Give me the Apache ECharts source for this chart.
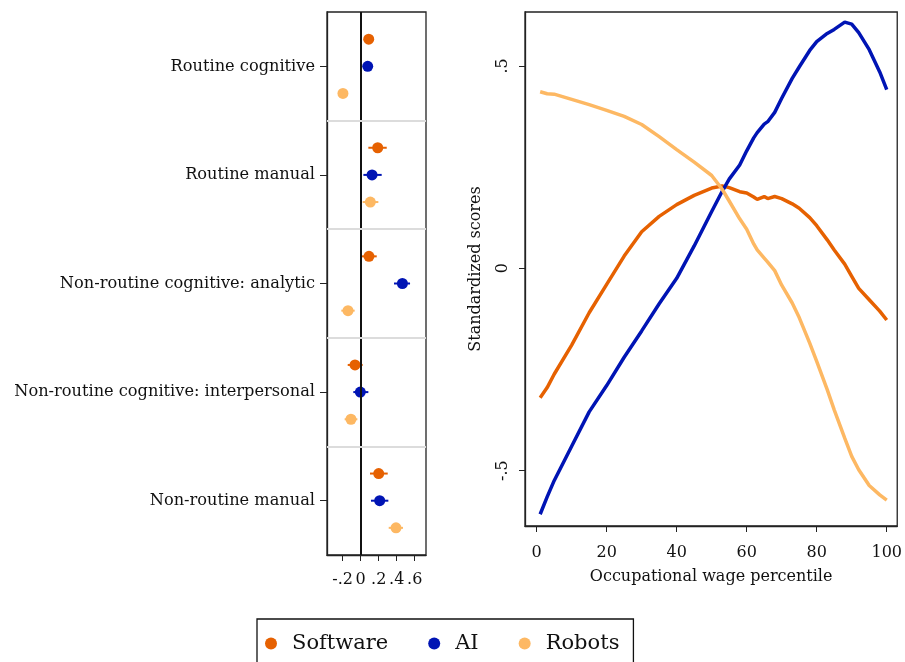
<!DOCTYPE html>
<html>
<head>
<meta charset="utf-8">
<script src="https://cdn.jsdelivr.net/npm/echarts@6/dist/echarts.min.js"></script>
<style>
  html, body { margin: 0; padding: 0; background: #fff; }
  #chart { width: 905px; height: 662px; }
</style>
</head>
<body>
<div id="chart"></div>
<script>
// left panel: coefficients with confidence intervals, by task group
const groups = ['Routine cognitive', 'Routine manual', 'Non-routine cognitive: analytic',
  'Non-routine cognitive: interpersonal', 'Non-routine manual'];
const softwareCoef = [0.089, 0.189, 0.092, -0.063, 0.200];
const softwareLo = [0.065, 0.085, 0.011, -0.144, 0.103];
const softwareHi = [0.115, 0.289, 0.178, 0.022, 0.300];
const aiCoef = [0.078, 0.126, 0.463, -0.004, 0.211];
const aiLo = [0.055, 0.030, 0.370, -0.082, 0.114];
const aiHi = [0.100, 0.233, 0.548, 0.085, 0.307];
const robotsCoef = [-0.197, 0.107, -0.141, -0.108, 0.392];
const robotsLo = [-0.225, 0.022, -0.215, -0.178, 0.311];
const robotsHi = [-0.170, 0.196, -0.067, -0.037, 0.470];
const coefTicks = [-0.2, 0, 0.2, 0.4, 0.6];

// right panel: smoothed scores by occupational wage percentile
const percentile = [1, 3, 5, 10, 15, 20, 25, 30, 35, 40, 45, 50, 53, 55, 58, 60, 62, 63, 65, 66,
  68, 70, 73, 75, 78, 80, 83, 85, 88, 90, 92, 95, 98, 100];
const softwareScore = [-0.320, -0.295, -0.262, -0.190, -0.110, -0.040, 0.030, 0.090, 0.128, 0.157,
  0.180, 0.198, 0.203, 0.199, 0.189, 0.186, 0.176, 0.170, 0.177, 0.172,
  0.177, 0.172, 0.159, 0.148, 0.125, 0.105, 0.070, 0.045, 0.010, -0.020,
  -0.050, -0.078, -0.106, -0.128];
const aiScore = [-0.608, -0.565, -0.525, -0.440, -0.355, -0.290, -0.220, -0.155, -0.088, -0.025,
  0.055, 0.140, 0.190, 0.220, 0.255, 0.290, 0.322, 0.335, 0.356, 0.362,
  0.385, 0.420, 0.469, 0.497, 0.538, 0.560, 0.580, 0.590, 0.608, 0.603,
  0.582, 0.540, 0.485, 0.441];
const robotsScore = [0.436, 0.431, 0.430, 0.417, 0.404, 0.390, 0.375, 0.355, 0.325, 0.293,
  0.262, 0.229, 0.195, 0.166, 0.122, 0.096, 0.060, 0.045, 0.025, 0.015,
  -0.006, -0.042, -0.086, -0.122, -0.185, -0.230, -0.300, -0.350, -0.420, -0.465,
  -0.498, -0.537, -0.560, -0.573];
const pctTicks = [0, 20, 40, 60, 80, 100];
const scoreTicks = [-0.5, 0, 0.5];

const colors = { Software: '#E66101', AI: '#0014B4', Robots: '#FDB863' };
const font = 'DejaVu Serif';

const stripZero = v => {
  if (v === 0) return '0';
  return String(v).replace('0.', '.');
};

// each group takes 4 rows: dots on rows 1..3, separator on row 0
const dotData = (coef, slot) => coef.map((c, g) => [c, g * 4 + slot]);
const ciData = (lo, hi, slot) => lo.map((l, g) => [l, hi[g], g * 4 + slot]);

const ciRender = color => (params, api) => {
  let p1 = api.coord([api.value(0), api.value(2)]);
  let p2 = api.coord([api.value(1), api.value(2)]);
  return {
    type: 'line',
    shape: { x1: p1[0], y1: p1[1], x2: p2[0], y2: p2[1] },
    style: { stroke: color, lineWidth: 2 }
  };
};

const coefSeries = [
  ['Software', softwareCoef, softwareLo, softwareHi, 1],
  ['AI', aiCoef, aiLo, aiHi, 2],
  ['Robots', robotsCoef, robotsLo, robotsHi, 3]
];

let series = [];
coefSeries.forEach(([name, coef, lo, hi, slot]) => {
  series.push({
    name: name,
    type: 'scatter',
    xAxisIndex: 0,
    yAxisIndex: 0,
    symbol: 'circle',
    symbolSize: 11,
    itemStyle: { color: colors[name], opacity: 1 },
    data: dotData(coef, slot),
    z: 4
  });
  series.push({
    name: name,
    type: 'custom',
    xAxisIndex: 0,
    yAxisIndex: 0,
    itemStyle: { color: colors[name] },
    renderItem: ciRender(colors[name]),
    encode: { x: [0, 1], y: 2 },
    data: ciData(lo, hi, slot),
    z: 3
  });
});

// zero line and group separators
series.push({
  type: 'line',
  xAxisIndex: 0,
  yAxisIndex: 0,
  data: [],
  silent: true,
  markLine: {
    symbol: 'none',
    silent: true,
    label: { show: false },
    data: [
      { xAxis: 0, lineStyle: { color: '#111', width: 2, type: 'solid' } },
      { yAxis: 4, lineStyle: { color: '#dcdcdc', width: 2, type: 'solid' } },
      { yAxis: 8, lineStyle: { color: '#dcdcdc', width: 2, type: 'solid' } },
      { yAxis: 12, lineStyle: { color: '#dcdcdc', width: 2, type: 'solid' } },
      { yAxis: 16, lineStyle: { color: '#dcdcdc', width: 2, type: 'solid' } }
    ]
  },
  z: 2
});

[['Software', softwareScore], ['AI', aiScore], ['Robots', robotsScore]].forEach(([name, vals]) => {
  series.push({
    name: name,
    type: 'line',
    xAxisIndex: 1,
    yAxisIndex: 1,
    showSymbol: false,
    symbol: 'none',
    lineStyle: { color: colors[name], width: 3.5 },
    itemStyle: { color: colors[name] },
    data: percentile.map((p, i) => [p, vals[i]])
  });
});

const chart = echarts.init(document.getElementById('chart'), null, { renderer: 'canvas' });
chart.setOption({
  animation: false,
  backgroundColor: '#fff',
  textStyle: { fontFamily: font },
  grid: [
    { left: 327, top: 12, width: 99, height: 543, show: true, borderColor: '#222', borderWidth: 1.3, backgroundColor: 'transparent' },
    { left: 525, top: 12, width: 374, height: 514, show: true, borderColor: '#222', borderWidth: 1.3, backgroundColor: 'transparent' }
  ],
  xAxis: [
    {
      type: 'value', gridIndex: 0, min: -0.374, max: 0.725,
      splitLine: { show: false },
      axisLine: { show: true, onZero: false, lineStyle: { color: '#222', width: 1.3 } },
      axisTick: { show: true, length: 6, customValues: coefTicks, lineStyle: { color: '#222' } },
      axisLabel: { customValues: coefTicks, formatter: stripZero, fontSize: 16, color: '#111', margin: 17, fontFamily: font },
    },
    {
      type: 'value', gridIndex: 1, min: -3.33, max: 103,
      splitLine: { show: false },
      axisLine: { show: true, onZero: false, lineStyle: { color: '#222', width: 1.3 } },
      axisTick: { show: true, length: 6, customValues: pctTicks, lineStyle: { color: '#222' } },
      axisLabel: { customValues: pctTicks, fontSize: 16, color: '#111', margin: 19, fontFamily: font },
      name: 'Occupational wage percentile',
      nameLocation: 'middle',
      nameGap: 43,
      nameTextStyle: { fontSize: 16, color: '#111', fontFamily: font }
    }
  ],
  yAxis: [
    {
      type: 'value', gridIndex: 0, min: 0, max: 20, inverse: true,
      splitLine: { show: false },
      axisLine: { show: true, onZero: false, lineStyle: { color: '#222', width: 1.3 } },
      axisTick: { show: true, length: 7, customValues: [2, 6, 10, 14, 18], lineStyle: { color: '#222' } },
      axisLabel: {
        customValues: [2, 6, 10, 14, 18],
        formatter: v => groups[Math.round((v - 2) / 4)],
        fontSize: 16.2, color: '#111', margin: 12, fontFamily: font,
        padding: [14, 0, 0, 0]
      }
    },
    {
      type: 'value', gridIndex: 1, min: -0.637, max: 0.633,
      splitLine: { show: false },
      axisLine: { show: true, onZero: false, lineStyle: { color: '#222', width: 1.3 } },
      axisTick: { show: true, length: 6, customValues: scoreTicks, lineStyle: { color: '#222' } },
      axisLabel: { customValues: scoreTicks, formatter: stripZero, rotate: 90, fontSize: 16, color: '#111', margin: 14, fontFamily: font },
      name: 'Standardized scores',
      nameLocation: 'middle',
      nameGap: 41,
      nameTextStyle: { fontSize: 16, color: '#111', fontFamily: font }
    }
  ],
  legend: {
    left: 257,
    top: 619,
    padding: [14, 14, 20, 8],
    borderColor: '#111',
    borderWidth: 1.3,
    itemGap: 40,
    itemWidth: 12,
    itemHeight: 12,
    textStyle: { fontSize: 21, color: '#111', fontFamily: font, padding: [0, 0, 0, 10] },
    data: [
      { name: 'Software', icon: 'circle' },
      { name: 'AI', icon: 'circle' },
      { name: 'Robots', icon: 'circle' }
    ]
  },
  series: series
});
</script>
</body>
</html>
